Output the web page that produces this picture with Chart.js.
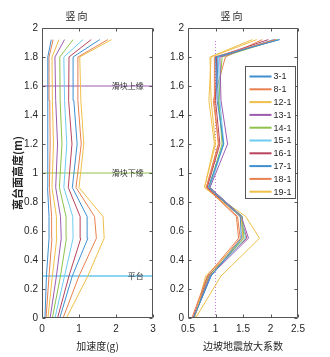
<!DOCTYPE html>
<html><head><meta charset="utf-8">
<script src="https://cdn.jsdelivr.net/npm/chart.js@4/dist/chart.umd.min.js"></script>
<style>
html,body{margin:0;padding:0;background:#fff;}
#wrap{position:relative;width:330px;height:357px;overflow:hidden;}
.c{position:absolute;top:0;width:165px;height:357px;}
</style></head><body>
<div id="wrap">
<div class="c" style="left:0"><canvas id="c1" width="165" height="357"></canvas></div>
<div class="c" style="left:165px"><canvas id="c2" width="165" height="357"></canvas></div>
</div>
<script>
// ---- data ----
const heights = [0, 0.29, 0.55, 0.7, 0.9, 1.2, 1.5, 1.8, 1.92];
const seriesNames = ['3-1','8-1','12-1','13-1','14-1','15-1','16-1','17-1','18-1','19-1'];

// acceleration (g) at each height
const accel31 = [0.08, 0.12, 0.19, 0.19, 0.15, 0.16, 0.15, 0.16, 0.25];
const accel81 = [0.11, 0.19, 0.27, 0.26, 0.20, 0.22, 0.21, 0.19, 0.30];
const accel121 = [0.16, 0.28, 0.40, 0.39, 0.27, 0.31, 0.28, 0.27, 0.46];
const accel131 = [0.22, 0.39, 0.52, 0.50, 0.37, 0.42, 0.37, 0.35, 0.61];
const accel141 = [0.28, 0.50, 0.66, 0.65, 0.47, 0.54, 0.49, 0.48, 0.84];
const accel151 = [0.35, 0.61, 0.84, 0.83, 0.59, 0.67, 0.61, 0.59, 1.11];
const accel161 = [0.42, 0.73, 1.05, 1.03, 0.71, 0.81, 0.72, 0.73, 1.33];
const accel171 = [0.48, 0.82, 1.24, 1.22, 0.82, 0.95, 0.86, 0.84, 1.56];
const accel181 = [0.57, 1.00, 1.47, 1.42, 0.92, 1.06, 0.97, 0.97, 1.78];
const accel191 = [0.66, 1.24, 1.68, 1.65, 1.00, 1.13, 1.05, 1.02, 1.88];

// amplification factor at each height
const amp31 = [0.60, 0.92, 1.47, 1.45, 0.87, 1.15, 1.03, 1.00, 2.17];
const amp81 = [0.57, 0.85, 1.42, 1.38, 0.83, 1.05, 0.98, 0.98, 2.10];
const amp121 = [0.62, 0.82, 1.50, 1.46, 0.80, 1.00, 0.92, 0.90, 1.67];
const amp131 = [0.60, 0.90, 1.60, 1.47, 0.90, 1.22, 1.10, 1.08, 2.08];
const amp141 = [0.61, 0.88, 1.52, 1.48, 0.88, 1.12, 1.06, 1.12, 2.12];
const amp151 = [0.60, 0.91, 1.55, 1.47, 0.90, 1.15, 1.08, 1.05, 2.05];
const amp161 = [0.59, 0.86, 1.57, 1.45, 0.85, 1.08, 1.00, 1.02, 1.96];
const amp171 = [0.60, 0.92, 1.50, 1.49, 0.89, 1.14, 1.05, 1.03, 2.15];
const amp181 = [0.61, 0.88, 1.45, 1.40, 0.84, 1.06, 0.96, 1.18, 1.85];
const amp191 = [0.64, 1.10, 1.80, 1.55, 0.80, 0.98, 0.88, 0.92, 1.75];

// reference lines (left chart)
const refHeights = [1.6, 1.0, 0.29];
const refLabels = ['滑块上缘', '滑块下缘', '平台'];
const refLabelX = 2.75;
// reference line (right chart)
const refAmpX = 1;
const refAmpTop = 1.92;

const accelRange = [0, 3];
const ampRange = [0.5, 2.5];

// ---- style ----
const colors = ['#3f8fd0','#e8804f','#f0bf4a','#9b5cb0','#8ec24c','#6ecbf0','#b8435e','#3f8fd0','#e8804f','#f0bf4a'];
const refColors = ['#9b5cb0','#8ec24c','#8fd4f2'];
const refWidths = [1, 1, 2];
const cjk = "'Noto Sans CJK SC', sans-serif";
const num = "'Liberation Sans Narrow', 'Liberation Sans', sans-serif";
const txt = '#262626';
const axisCol = '#555';

const accelSeries = [accel31, accel81, accel121, accel131, accel141, accel151, accel161, accel171, accel181, accel191];
const ampSeries = [amp31, amp81, amp121, amp131, amp141, amp151, amp161, amp171, amp181, amp191];

function seriesDatasets(list) {
  return list.map((vals, i) => ({
    label: seriesNames[i],
    data: vals.map((v, k) => ({x: v, y: heights[k]})),
    borderColor: colors[i],
    borderWidth: 1,
    pointRadius: 0,
    showLine: true,
    fill: false,
    tension: 0
  }));
}

const fmt = v => String(Number(Number(v).toFixed(2)));

const framePlugin = {
  id: 'frame',
  afterDatasetsDraw(chart) {
    const {ctx, chartArea: a, scales} = chart;
    ctx.save();
    ctx.strokeStyle = axisCol;
    ctx.lineWidth = 1;
    ctx.beginPath();
    const L = Math.round(a.left) + 0.5, R = Math.round(a.right) - 0.5;
    const T = Math.round(a.top) + 0.5, B = Math.round(a.bottom) - 0.5;
    ctx.rect(L, T, R - L, B - T);
    const tl = 3;
    scales.x.ticks.forEach(t => {
      const p = Math.round(scales.x.getPixelForValue(t.value)) + 0.5;
      ctx.moveTo(p, B); ctx.lineTo(p, B - tl);
      ctx.moveTo(p, T); ctx.lineTo(p, T + tl);
    });
    scales.y.ticks.forEach(t => {
      const p = Math.round(scales.y.getPixelForValue(t.value)) + 0.5;
      ctx.moveTo(L, p); ctx.lineTo(L + tl, p);
      ctx.moveTo(R, p); ctx.lineTo(R - tl, p);
    });
    ctx.stroke();
    ctx.restore();
  }
};

const refLabelPlugin = {
  id: 'refLabels',
  afterDatasetsDraw(chart) {
    if (chart.canvas.id !== 'c1') return;
    const {ctx, scales} = chart;
    ctx.save();
    ctx.font = "8px " + cjk;
    ctx.fillStyle = '#333';
    ctx.textAlign = 'right';
    ctx.textBaseline = 'middle';
    refHeights.forEach((h, i) => {
      ctx.fillText(refLabels[i], scales.x.getPixelForValue(refLabelX), scales.y.getPixelForValue(h));
    });
    ctx.restore();
  }
};

const legendPlugin = {
  id: 'boxLegend',
  afterDatasetsDraw(chart) {
    if (chart.canvas.id !== 'c2') return;
    const {ctx, chartArea: a} = chart;
    const right = Math.round(a.right) - 2.5;
    const left = right - 50;
    const top = 66.5;
    const rowH = 12.8;
    const bottom = top + rowH * seriesNames.length + 4;
    ctx.save();
    ctx.fillStyle = '#fff';
    ctx.fillRect(left, top, right - left, bottom - top);
    ctx.strokeStyle = axisCol;
    ctx.lineWidth = 1;
    ctx.strokeRect(left, top, right - left, bottom - top);
    ctx.font = "9px " + num;
    ctx.textBaseline = 'middle';
    ctx.textAlign = 'left';
    seriesNames.forEach((n, i) => {
      const y = top + 10 + i * rowH;
      ctx.strokeStyle = colors[i];
      ctx.lineWidth = 2;
      ctx.beginPath();
      ctx.moveTo(left + 4, y); ctx.lineTo(left + 26, y);
      ctx.stroke();
      ctx.fillStyle = txt;
      ctx.fillText(n, left + 28, y + 0.5);
    });
    ctx.restore();
  }
};

function options(range, step, xTitle, yTitle, yWidth, rightPad) {
  return {
    responsive: false,
    animation: false,
    devicePixelRatio: 1,
    layout: {padding: {left: 0, right: rightPad, top: 4, bottom: 0}},
    plugins: {
      legend: {display: false},
      tooltip: {enabled: false},
      title: {display: true, text: '竖 向', color: txt, font: {family: cjk, size: 10, weight: 'normal'}, padding: {top: 6, bottom: 6}}
    },
    scales: {
      x: {
        type: 'linear', min: range[0], max: range[1],
        grid: {display: false, drawTicks: false},
        border: {display: false},
        ticks: {stepSize: step, color: txt, font: {family: num, size: 10}, padding: 5, maxRotation: 0, callback: fmt},
        title: {display: true, text: xTitle, color: txt, font: {family: cjk, size: 10}, padding: {top: 0, bottom: 5}},
        afterFit(s) { s.height = 39; }
      },
      y: {
        type: 'linear', min: 0, max: 2,
        grid: {display: false, drawTicks: false},
        border: {display: false},
        ticks: {stepSize: 0.2, color: txt, font: {family: num, size: 10}, padding: 4, callback: fmt},
        title: {display: !!yTitle, text: yTitle, color: txt, font: {family: cjk, size: 11, weight: 'bold'}, padding: {top: 11, bottom: 0}},
        afterFit(s) { s.width = yWidth; }
      }
    }
  };
}

const leftDatasets = seriesDatasets(accelSeries).concat(refHeights.map((h, i) => ({
  label: refLabels[i],
  data: [{x: accelRange[0], y: h}, {x: accelRange[1], y: h}],
  borderColor: refColors[i], borderWidth: refWidths[i], pointRadius: 0, showLine: true, fill: false
})));

new Chart(document.getElementById('c1'), {
  type: 'scatter',
  data: {datasets: leftDatasets},
  options: options(accelRange, 1, '加速度(g)', '离台面高度(m)', 42, 12),
  plugins: [refLabelPlugin, framePlugin]
});

const rightDatasets = seriesDatasets(ampSeries).concat([{
  label: 'ref',
  data: [{x: refAmpX, y: 0}, {x: refAmpX, y: refAmpTop}],
  borderColor: '#c77ad8', borderWidth: 1, borderDash: [1, 2], pointRadius: 0, showLine: true, fill: false
}]);

new Chart(document.getElementById('c2'), {
  type: 'scatter',
  data: {datasets: rightDatasets},
  options: options(ampRange, 0.5, '边坡地震放大系数', '', 23, 32),
  plugins: [framePlugin, legendPlugin]
});
</script>
</body></html>
